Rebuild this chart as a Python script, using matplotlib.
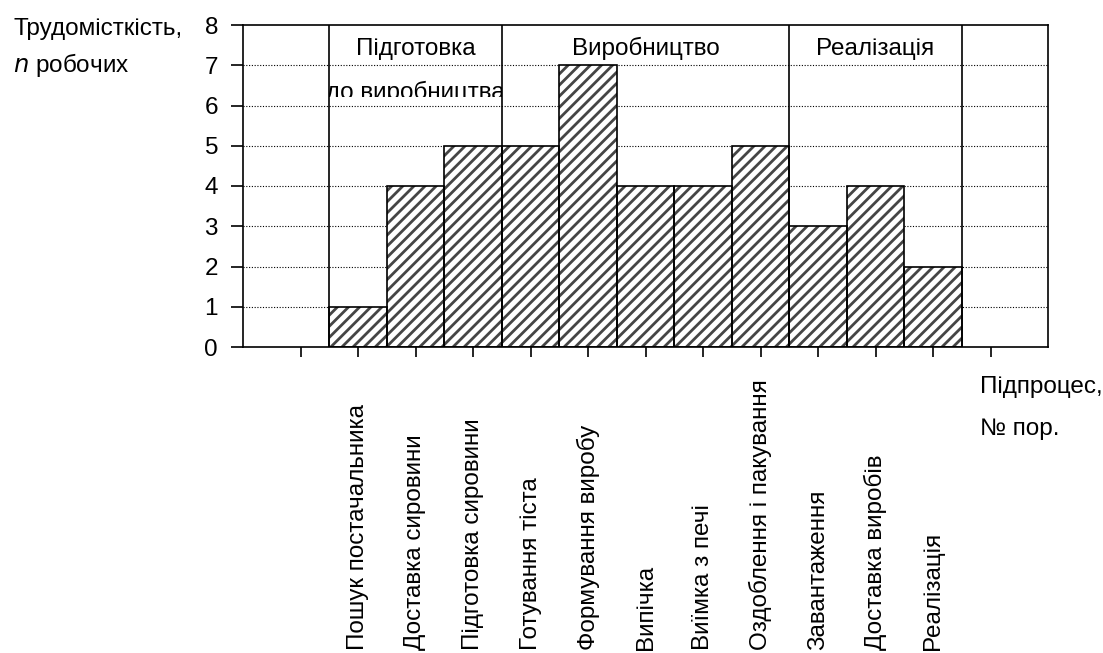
import numpy as np
import matplotlib
matplotlib.use("Agg")
import matplotlib.pyplot as plt
from matplotlib.transforms import Bbox, TransformedBbox, blended_transform_factory

plt.rcParams['font.family'] = ['Liberation Sans', 'DejaVu Sans']
plt.rcParams['hatch.linewidth'] = 2.0

# data
categories = ["Пошук постачальника", "Доставка сировини", "Підготовка сировини",
              "Готування тіста", "Формування виробу", "Випічка", "Виїмка з печі",
              "Оздоблення і пакування", "Завантаження", "Доставка виробів", "Реалізація"]
values = [1, 4, 5, 5, 7, 4, 4, 5, 3, 4, 2]
stages = ["Підготовка", "Виробництво", "Реалізація"]
stage_bounds = [0.5, 3.5, 8.5, 11.5]

fs = 17.5
fig = plt.figure(figsize=(11.03, 6.53), dpi=100)
ax = fig.add_axes([243/1103, 1-347/653, (1048-243)/1103, (347-25)/653])

x = np.arange(1, len(values)+1)
# hatched fill, then black outline on top
ax.bar(x, values, width=1.0, color='white', edgecolor='#454545', hatch='///',
       linewidth=0, zorder=2)
ax.bar(x, values, width=1.0, fill=False, edgecolor='black', linewidth=1.2, zorder=3)

for yv in range(1, 8):
    ax.axhline(yv, color='black', linestyle=(0, (1, 1.5)), linewidth=0.8, zorder=1)
for b in stage_bounds:
    ax.axvline(b, color='black', linewidth=1.2, zorder=4)

ax.set_xlim(-1, 13)
ax.set_ylim(0, 8)
ax.set_yticks(range(0, 9))
ax.set_xticks(range(0, 13))
ax.set_xticklabels([])
ax.tick_params(axis='y', labelsize=fs, length=9, width=1.2, pad=9)
ax.tick_params(axis='x', length=7, width=1.2)
for s in ax.spines.values():
    s.set_linewidth(1.2)

# stage titles
for i, name in enumerate(stages):
    cx = (stage_bounds[i] + stage_bounds[i+1]) / 2
    ax.text(cx, 7.25, name, ha='center', va='baseline', fontsize=fs, zorder=5)
t = ax.text((stage_bounds[0] + stage_bounds[1]) / 2, 6.15, "до виробництва",
            ha='center', va='baseline', fontsize=fs, zorder=5)
t.set_clip_box(TransformedBbox(Bbox([[0.5, 6.21], [3.5, 8]]), ax.transData))
t.set_clip_on(True)

# rotated category labels, bottom aligned
trans = blended_transform_factory(ax.transData, fig.transFigure)
for xi, lab in zip(x, categories):
    ax.text(xi, 3/653, lab, rotation=90, ha='center', va='bottom',
            fontsize=fs, transform=trans)

# axis titles
fig.text(13/1103, 1-35/653, "Трудомісткість,", fontsize=fs, ha='left', va='baseline')
fig.text(13/1103, 1-72/653, r"$\mathit{n}$ робочих", fontsize=fs, ha='left', va='baseline')
fig.text(980/1103, 1-393/653, "Підпроцес,", fontsize=fs, ha='left', va='baseline')
fig.text(980/1103, 1-435/653, "№ пор.", fontsize=fs, ha='left', va='baseline')

fig.savefig("out.png", dpi=100)
